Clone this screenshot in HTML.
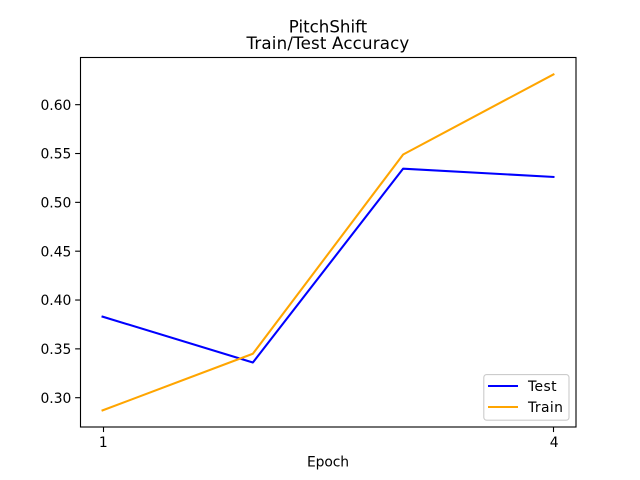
<!DOCTYPE html>
<html>
<head>
<meta charset="utf-8">
<title>PitchShift Train/Test Accuracy</title>
<style>
html,body{margin:0;padding:0;background:#fff;width:640px;height:480px;overflow:hidden}
svg{display:block}
text{font-family:"DejaVu Sans",sans-serif;fill:#000}
</style>
</head>
<body>
<svg id="chart" width="640" height="480" viewBox="0 0 640 480" xmlns="http://www.w3.org/2000/svg">
  <rect x="0" y="0" width="640" height="480" fill="#fff"/>
  <g id="marks"></g>
  <g id="axes"></g>
  <rect x="80.5" y="57.5" width="495.5" height="369.5" fill="none" stroke="#000" stroke-width="1.11"/>
  <text x="328" y="32.5" font-size="16.67" text-anchor="middle">PitchShift</text>
  <text x="328" y="49" font-size="16.67" text-anchor="middle" letter-spacing="0.17">Train/Test Accuracy</text>
  <text x="328" y="466.5" font-size="13.89" text-anchor="middle" letter-spacing="-0.1">Epoch</text>
  <g>
    <rect x="483.8" y="374.6" width="85.2" height="45.6" rx="2.8" ry="2.8" fill="#fff" fill-opacity="0.8" stroke="#ccc" stroke-width="1.11"/>
    <line x1="488" x2="518" y1="386" y2="386" stroke="#0000ff" stroke-width="2.08"/>
    <text x="528" y="391" font-size="13.89" letter-spacing="0.4">Test</text>
    <line x1="488" x2="518" y1="407" y2="407" stroke="#ffa500" stroke-width="2.08"/>
    <text x="528" y="412" font-size="13.89" letter-spacing="0.4">Train</text>
  </g>
</svg>
<script>
var epochs = [1, 2, 3, 4];
var testAccuracy = [0.383, 0.336, 0.5345, 0.526];
var trainAccuracy = [0.287, 0.345, 0.549, 0.631];
var xTickValues = [1, 4];
var yTickValues = [0.30, 0.35, 0.40, 0.45, 0.50, 0.55, 0.60];
var yTickLabels = ["0.30", "0.35", "0.40", "0.45", "0.50", "0.55", "0.60"];

var NS = "http://www.w3.org/2000/svg";
var plotLeft = 80, plotRight = 576, plotTop = 57.6, plotBottom = 427.2;
var xDomainMin = 0.85, xDomainMax = 4.15;
var yDomainMin = 0.2698, yDomainMax = 0.6482;

function xScale(v) {
  return plotLeft + (v - xDomainMin) / (xDomainMax - xDomainMin) * (plotRight - plotLeft);
}
function yScale(v) {
  return plotBottom - (v - yDomainMin) / (yDomainMax - yDomainMin) * (plotBottom - plotTop);
}
function make(tag, attrs) {
  var el = document.createElementNS(NS, tag);
  for (var k in attrs) el.setAttribute(k, attrs[k]);
  return el;
}

var marks = document.getElementById("marks");
var axes = document.getElementById("axes");

function linePoints(values) {
  return values.map(function (v, i) {
    return xScale(epochs[i]).toFixed(2) + "," + yScale(v).toFixed(2);
  }).join(" ");
}

var testLine = make("polyline", {points: linePoints(testAccuracy), fill: "none", stroke: "#0000ff", "stroke-width": 2.08, "stroke-linejoin": "round", "stroke-linecap": "square"});


marks.appendChild(testLine);

var trainLine = make("polyline", {points: linePoints(trainAccuracy), fill: "none", stroke: "#ffa500", "stroke-width": 2.08, "stroke-linejoin": "round", "stroke-linecap": "square"});


marks.appendChild(trainLine);

xTickValues.forEach(function (v) {
  var x = xScale(v);
  var snapped = Math.round(x) + 0.5;
  var tick = make("line", {x1: snapped, x2: snapped, y1: plotBottom, y2: plotBottom + 4.86, stroke: "#000", "stroke-width": 1.11});
  
  
  axes.appendChild(tick);
  var label = make("text", {x: x + 0.7, y: 447, "font-size": 13.89, "text-anchor": "middle"});
  label.textContent = String(v);
  
  
  axes.appendChild(label);
});

yTickValues.forEach(function (v, i) {
  var y = yScale(v);
  var tick = make("line", {x1: plotLeft - 4.86, x2: plotLeft, y1: y, y2: y, stroke: "#000", "stroke-width": 1.11});
  
  
  axes.appendChild(tick);
  var label = make("text", {x: 71.4, y: y + 5.2, "font-size": 13.89, "text-anchor": "end"});
  label.textContent = yTickLabels[i];
  
  
  axes.appendChild(label);
});
</script>
</body>
</html>
